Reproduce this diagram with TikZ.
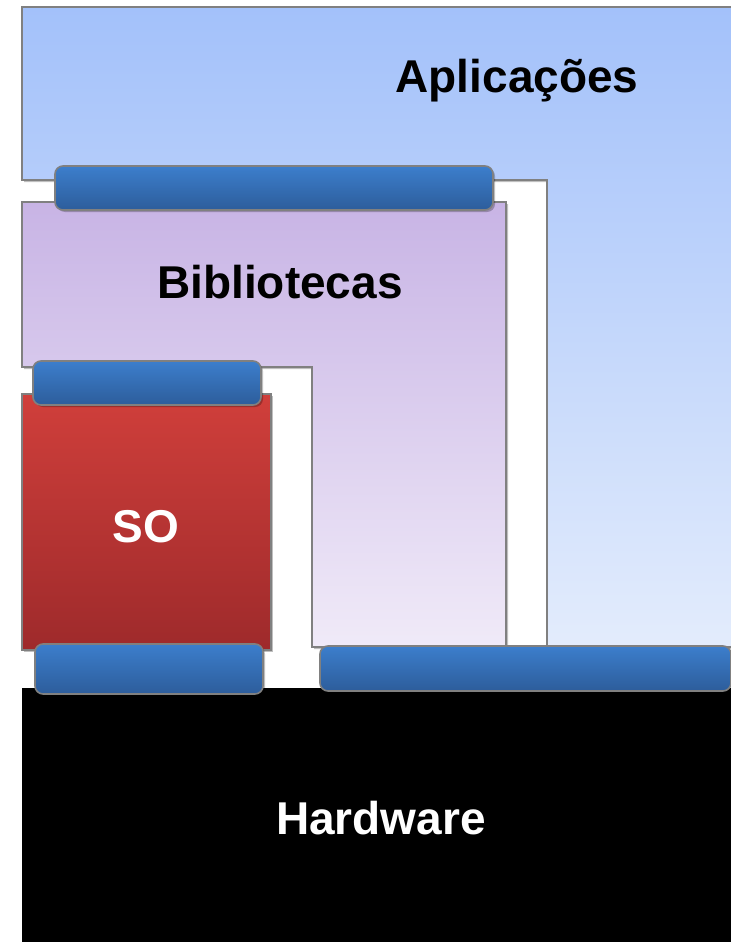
\documentclass[tikz,border=0pt]{standalone}
\usepackage{fontspec}
\setmainfont{Liberation Sans}
\usetikzlibrary{shadows}

\definecolor{edgegray}{HTML}{808080}
\definecolor{appTop}{HTML}{A3C1FA}
\definecolor{appBot}{HTML}{E3ECFC}
\definecolor{libTop}{HTML}{C8B4E5}
\definecolor{libBot}{HTML}{F0EAF8}
\definecolor{osTop}{HTML}{D03F3B}
\definecolor{osBot}{HTML}{9E2A2B}
\definecolor{barTop}{HTML}{3C7ECC}
\definecolor{barBot}{HTML}{2D5D9B}

\tikzset{
  softshadow/.style={drop shadow={shadow xshift=1.5pt, shadow yshift=-1.5pt, opacity=0.25, fill=black}},
  layeredge/.style={draw=edgegray, line width=1.2pt, line join=miter, softshadow},
  iface/.style={draw=edgegray, line width=1.2pt, rounded corners=6pt,
    top color=barTop, bottom color=barBot, softshadow},
  layertext/.style={font=\fontsize{34.5}{40}\selectfont\bfseries, inner sep=0pt, anchor=base}
}

\begin{document}
\begin{tikzpicture}[x=0.75pt, y=-0.75pt]
  \clip (0,0) rectangle (731,942);
  \fill[white] (0,0) rectangle (731,942);

  % application layer (L-shaped, runs off the right edge)
  \path[layeredge, top color=appTop, bottom color=appBot]
    (22,7) -- (760,7) -- (760,647) -- (547,647) -- (547,180) -- (22,180) -- cycle;

  % libraries layer (L-shaped)
  \path[layeredge, top color=libTop, bottom color=libBot]
    (22,202) -- (506,202) -- (506,647) -- (312,647) -- (312,367) -- (22,367) -- cycle;

  % operating system
  \path[layeredge, top color=osTop, bottom color=osBot]
    (22,394) rectangle (271,650);

  % hardware
  \fill[black] (22,688) rectangle (760,960);

  % interfaces between layers
  \path[iface] (55,166) rectangle (493,210);
  \path[iface] (33,361) rectangle (261,405);
  \path[iface] (35,644) rectangle (263,694);
  \path[iface] (320,646) rectangle (731,691);

  % layer names
  \node[layertext] (apps) at (517,93) {Aplicações};
  \node[layertext] (libs) at (280,298) {Bibliotecas};
  \node[layertext, white] (os) at (146,542) {SO};
  \node[layertext, white] (hw) at (381,834) {Hardware};
\end{tikzpicture}
\end{document}
